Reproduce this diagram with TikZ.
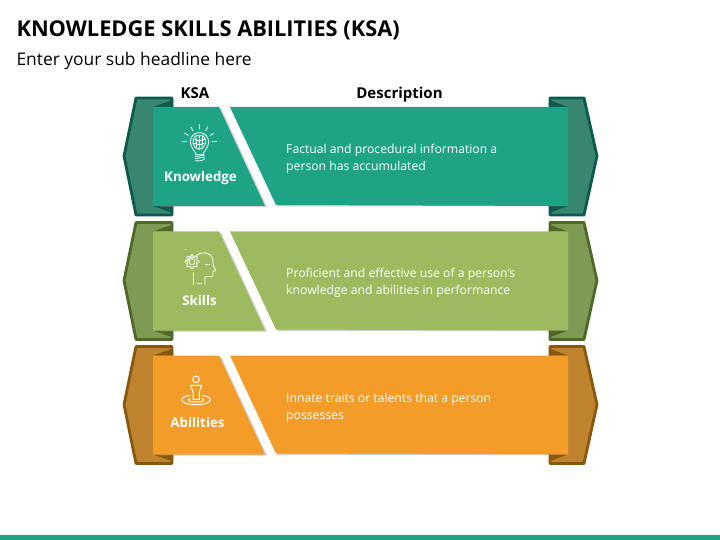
\documentclass[tikz,border=0pt]{standalone}
\usepackage{fontspec}
\setmainfont{Open Sans}
\definecolor{greenmain}{RGB}{31,163,133}
\definecolor{greenside}{RGB}{56,134,112}
\definecolor{greenedge}{RGB}{14,90,74}
\definecolor{limemain}{RGB}{157,187,94}
\definecolor{limeside}{RGB}{127,154,85}
\definecolor{limeedge}{RGB}{79,104,42}
\definecolor{orangemain}{RGB}{243,156,39}
\definecolor{orangeside}{RGB}{192,131,46}
\definecolor{orangeedge}{RGB}{136,88,16}
\tikzset{
	sidetab/.style = {line width = 2.8pt, line join = round},
	iconline/.style = {draw = white, line width = .8pt, line cap = round, line join = round},
	heading/.style = {font = \fontsize{15}{18}\bfseries\selectfont, text = black, anchor = base},
	rowname/.style = {font = \fontsize{13.3}{18}\bfseries\selectfont, text = white, anchor = base},
	rowtext/.style = {font = \fontsize{12.2}{17}\selectfont, text = white, align = left, anchor = west}
}

\begin{document}
\begin{tikzpicture}[x=1pt,y=-1pt]
	\useasboundingbox (0, 0) rectangle (720, 540);
	\fill[greenmain] (0, 535) rectangle (720, 540);

	\node[anchor = west, font = \fontsize{21.8}{26}\bfseries\selectfont] (title) at (13, 30) {KNOWLEDGE SKILLS ABILITIES (KSA)};
	\node[anchor = west, font = \fontsize{17.4}{20}\selectfont] (subtitle) at (13, 60.5) {Enter your sub headline here};
	\node[heading] (ksa) at (195, 98.5) {KSA};
	\node[heading] (description) at (399.5, 98.5) {Description};

	\foreach \off/\col in {0/green, 124.5/lime, 248.5/orange} {
	\begin{scope}[yshift = -\off pt]
		\fill[\col side] (136, 98) -- (172, 98) -- (172, 215) -- (136, 215) -- (124, 156) -- cycle;
		\fill[\col side] (550, 98) -- (584, 98) -- (597, 156) -- (584, 215) -- (550, 215) -- cycle;
		\draw[sidetab, draw = \col edge] (172, 215) -- (136, 215) -- (124, 156) -- (136, 98) -- (172, 98) -- cycle;
		\draw[sidetab, draw = \col edge] (550, 98) -- (584, 98) -- (597, 156) -- (584, 215) -- (550, 215) -- cycle;
		\fill[\col edge] (153, 107) -- (173, 100) -- (173, 107) -- cycle;
		\fill[\col edge] (153, 206) -- (173, 213) -- (173, 206) -- cycle;
		\fill[\col edge] (568, 107) -- (549, 100) -- (549, 107) -- cycle;
		\fill[\col edge] (568, 206) -- (549, 213) -- (549, 206) -- cycle;

		\fill[black!45, opacity = .4] (221, 108) -- (267, 207) -- (160, 207) -- (160, 108) -- cycle;
		\fill[black!45, opacity = .4] (232, 108) -- (560, 108) -- (560, 206.5) -- (278, 206.5) -- cycle;
		\fill[\col main] (153, 107) -- (219, 107) -- (265, 206) -- (153, 206) -- cycle;
		\fill[\col main] (230, 107) -- (568, 107) -- (568, 206) -- (276, 205) -- cycle;
	\end{scope}
	}

	\node[rowname] (knowledge) at (200.5, 182) {Knowledge};
	\node[rowname] (skills) at (199.5, 305) {Skills};
	\node[rowname] (abilities) at (197.5, 427) {Abilities};

	\node[rowtext] (knowledgetext) at (282.7, 158.5) {Factual and procedural information a\\person has accumulated};
	\node[rowtext] (skillstext) at (282.7, 282.5) {Proficient and effective use of a person’s\\knowledge and abilities in performance};
	\node[rowtext] (abilitiestext) at (282.7, 407.5) {Innate traits or talents that a person\\possesses};

	% bulb
	\begin{scope}[shift = {(170, 120)}, x = .3333pt, y = -.3333pt]
		\draw[iconline] (72, 92) .. controls (50, 65) and (65, 38) .. (88, 38) .. controls (112, 38) and (127, 65) .. (105, 92) .. controls (100, 97) and (100, 100) .. (100, 104) -- (77, 104) .. controls (77, 100) and (77, 97) .. (72, 92);
		\draw[iconline] (76, 110) -- (104, 105) (76, 116) -- (104, 111) (76, 122) .. controls (85, 124) and (98, 122) .. (104, 117);
		\foreach \a in {0, -30, -60, -90, -120, -150, -180}
		\draw[iconline] (88, 65) ++(\a:38) -- ++(\a:13);
		\draw[iconline] (88, 45) -- (88, 90) (88, 48) .. controls (68, 40) and (64, 70) .. (74, 80) .. controls (78, 88) and (84, 88) .. (88, 86) .. controls (92, 88) and (98, 88) .. (102, 80) .. controls (112, 70) and (108, 40) .. (88, 48);
		\draw[iconline] (72, 58) -- (88, 63) -- (104, 58) (73, 70) -- (88, 74) -- (103, 70) (78, 50) -- (80, 82) (98, 50) -- (96, 82);
	\end{scope}

	% head with gear
	\begin{scope}[shift = {(170, 245)}, x = .3333pt, y = -.3333pt]
		\draw[iconline] (78, 32) .. controls (92, 18) and (122, 20) .. (128, 42) .. controls (131, 52) and (128, 58) .. (130, 62) -- (137, 76) -- (129, 80) -- (129, 92) .. controls (129, 96) and (125, 96) .. (105, 95) -- (105, 119);
		\draw[iconline] (70, 84) -- (70, 118) (82, 115) -- (95, 115) (107, 58) -- (118, 58);
		\draw[iconline, shift = {(66, 50)}] plot[smooth cycle, samples = 48, domain = 0:352.5] (\x:{18 + 3.5 * cos(8 * \x)});
		\draw[iconline] (66, 50) circle (9);
		\draw[iconline] (52, 50) arc (180:300:14);
		\fill[white] (47, 13) circle (1.5);
	\end{scope}

	% figure on target
	\begin{scope}[shift = {(170, 370)}, x = .3333pt, y = -.3333pt]
		\draw[iconline, line width = 1pt] (78, 28) circle (10);
		\draw[iconline, line width = 1pt] (62, 46) -- (95, 46) -- (88, 66) -- (88, 88) -- (69, 88) -- (69, 66) -- cycle;
		\draw[iconline, line width = 1pt] (60, 76) .. controls (20, 82) and (30, 104) .. (78, 104) .. controls (126, 104) and (136, 82) .. (97, 76);
		\draw[iconline, line width = 1pt] (60, 86) .. controls (48, 92) and (60, 96) .. (78, 96) .. controls (96, 96) and (108, 92) .. (97, 86);
	\end{scope}
\end{tikzpicture}
\end{document}
